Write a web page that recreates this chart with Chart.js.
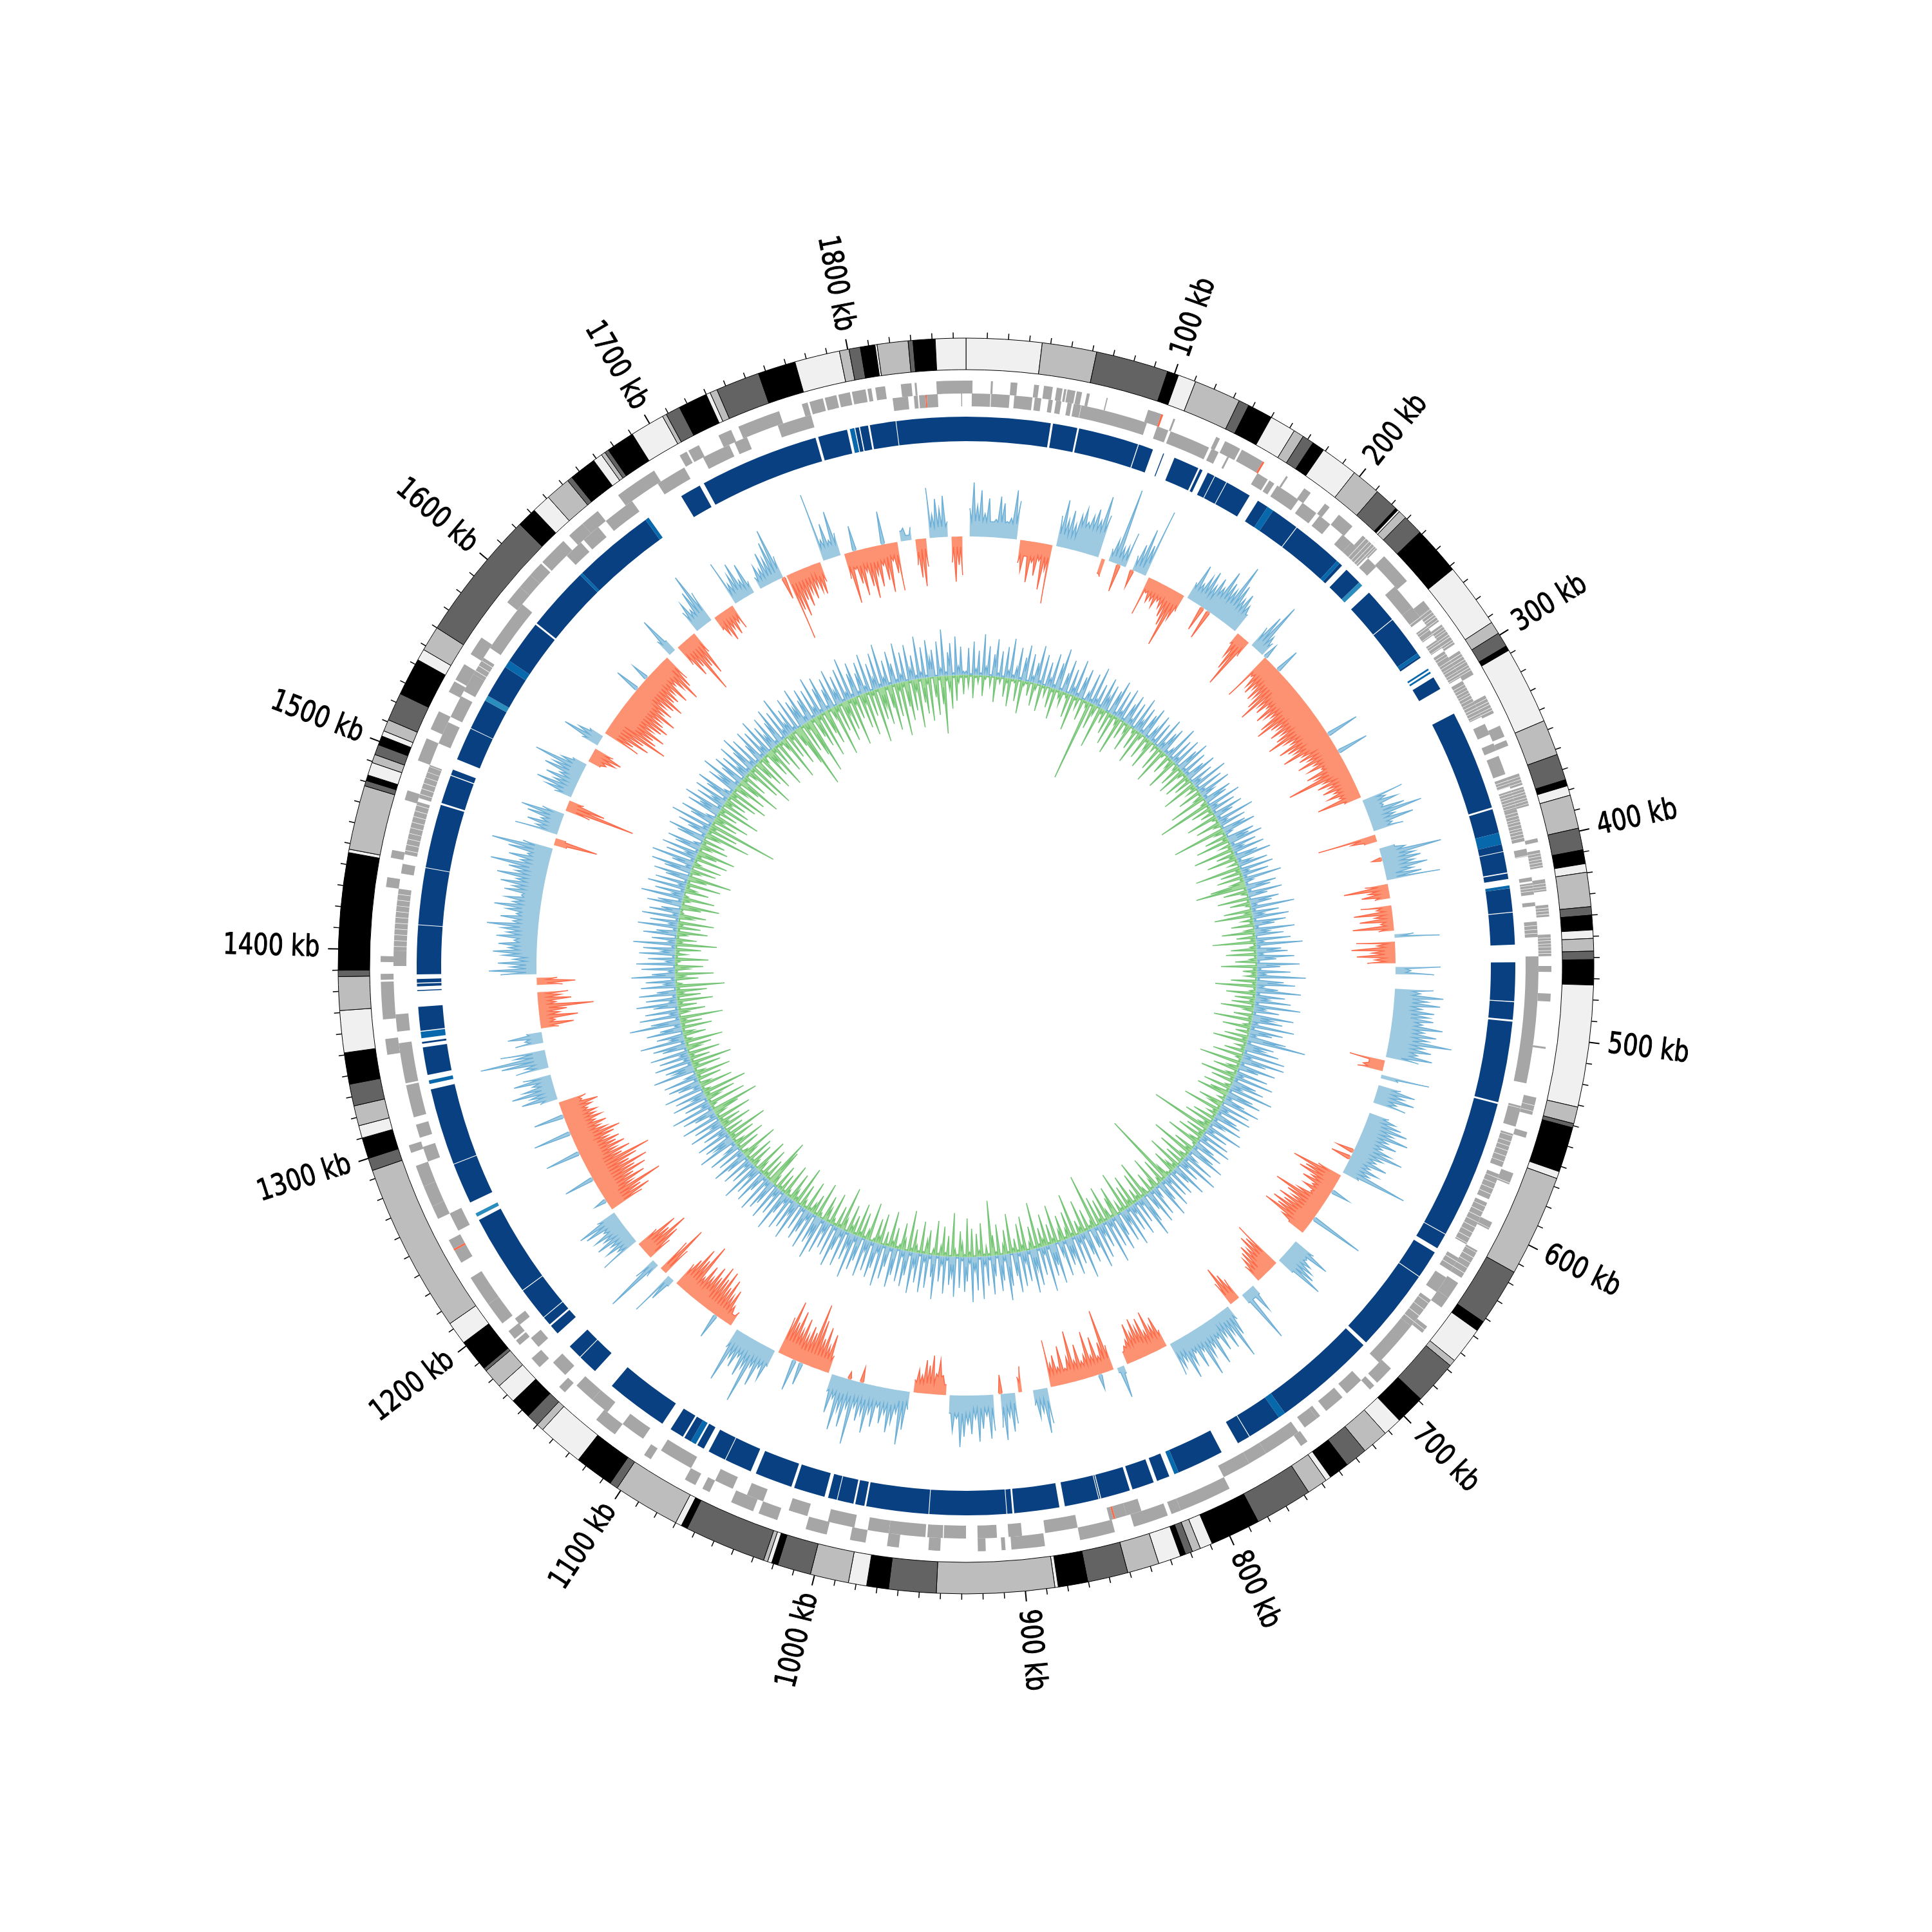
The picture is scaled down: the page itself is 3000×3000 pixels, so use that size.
<!DOCTYPE html>
<html><head><meta charset="utf-8"><title>Circular genome plot</title>
<style>html,body{margin:0;padding:0;background:#fff}#w{position:relative;width:3000px;height:3000px}canvas{position:absolute;left:0;top:0}</style>
<script src="https://cdn.jsdelivr.net/npm/chart.js@4"></script></head><body><div id="w">
<canvas id="rings" width="3000" height="3000"></canvas><canvas id="mid" width="3000" height="3000"></canvas><canvas id="inner" width="3000" height="3000"></canvas><canvas id="axis" width="3000" height="3000"></canvas></div>
<script>
const genomeKb=1856;
const tickLabels=['100 kb','200 kb','300 kb','400 kb','500 kb','600 kb','700 kb','800 kb','900 kb','1000 kb','1100 kb','1200 kb','1300 kb','1400 kb','1500 kb','1600 kb','1700 kb','1800 kb'];
const contigEnds=[36,62,96.6,102,110.6,133,138,150,162.5,167.5,173,179,197,211,222.7,224,225,229,238.7,262,293,299,306,308.4,345.5,362.5,375,378,382.6,398.6,409,415.6,419.7,436,440,447,451,457,461,473,531,539,541,562.6,566,614.5,642,647,664.7,667.8,688.8,703,712,724.6,735.3,745,747.6,757.5,785,809,815,819,822.5,825,835.8,851,870.3,884.4,886,942,964.6,975,983.7,1002,1018,1021,1023,1025,1064,1067,1070,1102,1106,1124.6,1146.6,1150,1156,1166,1175.6,1185,1186.6,1202,1213,1294,1300,1310,1316,1325.6,1336,1351,1371,1387,1390,1445.7,1447.3,1478,1480.6,1483.3,1489.5,1493.5,1498.4,1502.8,1505.4,1511,1524.5,1542.5,1548,1560,1622.5,1632,1641,1653,1655.5,1668.5,1673,1675,1677,1690.5,1707,1709,1716,1730,1732,1735.5,1756.5,1774.5,1796,1800.6,1806,1813,1814,1828.7,1831,1841.5,1856];
const contigShades=[0,1,2,3,0,1,2,3,0,1,2,3,0,1,2,3,0,1,2,3,0,1,2,3,0,1,2,3,0,1,2,3,0,1,2,3,0,1,2,3,0,1,2,3,0,1,2,3,0,1,2,3,0,1,2,3,0,1,2,3,0,1,2,3,0,1,2,3,0,1,2,3,0,1,2,3,0,1,2,3,0,1,2,3,0,1,2,3,0,1,2,3,0,1,2,3,0,1,2,3,0,1,2,3,0,1,2,3,0,1,2,3,0,1,2,3,0,1,2,3,0,1,2,3,0,1,2,3,0,1,2,3,0,1,2,3,0,1,2,3,0,1,2,3,0];
const forwardGenes=[[0,3.3],[12.6,13.6],[22.6,26],[34.5,37],[39.5,44],[46,49],[49.8,51],[51.5,55.6],[56.3,59],[61.5,63],[71.7,72.3],[93.5,100.5],[100.5,101.5,1],[107,108],[130.5,132.6],[135.5,144],[145,157],[157,158,1],[171,172],[182,186],[195,198],[204,213],[220,230],[235,252],[265,270],[270,278],[280,292],[296,310],[322,332],[339,345],[347,350],[365,371],[372,382],[399,401],[405,414],[420,426],[433,439],[448,459],[464,467],[478,482],[505,506],[531,540],[549,552],[571,577],[598,602],[614,630],[633,642],[642,648],[660,664],[688,698],[700,703],[744,748],[790,817],[817,822],[824,842],[852,870],[888,905],[908,910],[918,922],[941,947],[962,968],[979,987],[999,1010],[1025,1035],[1038,1050],[1062,1066],[1070,1076],[1096,1100],[1118,1130],[1151,1155],[1169,1175],[1184,1187],[1188,1193],[1198,1210],[1210,1226],[1235,1242],[1242,1243,1],[1243,1248],[1260,1267],[1267,1278],[1278,1289],[1296,1300],[1347,1355],[1365,1384],[1385,1388],[1394,1397],[1432,1437],[1447,1451],[1477,1482],[1498,1510],[1515,1525],[1536,1542],[1543,1552],[1558,1568],[1590,1600],[1600,1608],[1608,1616],[1617,1632],[1636,1645],[1645,1655],[1668,1690],[1705,1709],[1710,1716],[1727,1734],[1738,1760],[1772,1775],[1776,1783],[1784,1790],[1791,1797],[1798,1805],[1806,1808],[1810,1815],[1823,1828.4],[1830,1831],[1841,1856]];
const reverseGenes=[[3,12.6],[13,22.6],[25,34.4],[35.6,39],[42.8,45],[46.7,49.5],[52.7,55],[56,59.8],[60,95],[100.6,106.7],[108,129.5],[131,135],[140,141],[157.8,164],[165,168],[169.8,183],[185.6,194.5],[196.6,203.7],[212,218],[218,229],[230,236],[250,264],[264,272],[276,282],[285,290],[292,308],[310,331],[335,341],[346,350],[353,363],[365,370],[372,382],[382,399],[403,407],[418,420],[421,427],[431,433],[441,449],[459,525],[537,548],[552,570],[574,588],[590,614],[622,630],[634,643],[648,665],[665,690],[703,713],[716,727],[731,733],[733,741],[745,765],[765,775],[775,790],[836,844],[844,850],[850,851,1],[851,853],[870,887],[899,906],[912,922],[928,939.5],[940,948],[949,968],[968,979],[986,1000],[1011,1021],[1035,1044],[1052,1062],[1076,1094],[1105,1118],[1128,1138],[1138,1149],[1157,1166],[1177,1183],[1192,1196],[1250,1260],[1289,1297],[1302,1309],[1313,1330],[1331,1352],[1358,1367],[1392,1400],[1400,1432],[1440,1445],[1450,1478],[1480,1498],[1510,1522],[1525,1537],[1540,1550],[1550,1560],[1566,1594],[1628,1638],[1640,1650],[1655,1672],[1688,1704],[1715,1730],[1733,1740],[1757,1775],[1818,1826],[1829,1831],[1831.7,1835],[1835,1835.7,1],[1835.7,1841.4],[1853.5,1854]];
const geneBreaks=[222,224.2,226.1,227.8,229,270.4,272.1,273.8,275.2,276.9,278.5,281.2,282.8,284.1,286,287.4,289.3,290.6,293.5,295.1,297.6,299.2,301,302.4,304.3,305.8,307.2,312,313.6,315.3,317,318.4,320.2,322,323.7,325.5,327,328.8,330.2,366.5,368,369.6,373,374.6,376,377.7,379.2,380.8,383.5,385.2,387,388.4,390.1,392,393.5,395.2,397,406.5,408,409.7,411.2,412.8,422,423.5,425,434.5,436,437.6,443,445,447,449.6,451,452.7,454.2,456,457.5,530,535,538,553,556,558.5,561,564,567,576,579,582,585,592,595,598,601,604,607,610,613,615,618,621,624,627,650,654,658,662,1402,1405,1408,1411,1414,1417,1420,1423,1426,1429,1452,1455,1458,1461,1464,1467,1470,1473,1476,1482,1485,1488,1491,1494,1497,1552,1555,1558];
const repeatMarks=[[45.8,47,0],[60.3,61.3,0],[94.1,94.6,0],[102.6,108.5,0],[109,115,0],[129,130,0],[131.5,134.6,0],[138.6,139,0],[145.8,146.2,0],[160.3,165.5,0],[171.7,175.3,2],[190.6,191,0],[219,221,2],[222.7,226,0],[235.6,238,3],[238,243.3,0],[262.2,262.6,0],[285,287,2],[288,295,0],[295,296,2],[296,297,0],[297,298,2],[298,300.6,0],[307.8,323,0],[377.5,378.5,0],[391.6,398,2],[401.8,402.2,0],[413.4,414,0],[417,420.5,0],[420.5,422,2],[434.8,435.2,0],[452.5,462,0],[483,483.5,0],[493,494,0],[538,539,0],[614.5,614.9,0],[623.4,626,0],[641.3,641.7,0],[687,689,0],[745,749,2],[767.6,768,0],[775,785,0],[810.6,813,2],[813,816,0],[823,825,0],[837,838.5,0],[854.5,855,0],[855.6,856,0],[874.5,877.5,0],[902,903,0],[905.8,906.2,0],[947.8,948.2,0],[982,983,0],[988,989,0],[997.8,998.2,0],[1003,1005,0],[1022,1023.6,0],[1044,1047,0],[1061.8,1062.2,0],[1072,1075,0],[1079,1080,0],[1080,1083,2],[1087,1088,0],[1095.7,1101,0],[1135,1147,0],[1157.8,1158.2,0],[1166,1175.6,0],[1181,1182,0],[1186.8,1187.2,0],[1205.2,1205.6,0],[1250,1252,0],[1252,1254,3],[1254,1260.5,0],[1282.8,1283.2,0],[1325,1328,0],[1328,1330,2],[1330,1333,0],[1348,1350,0],[1351,1353,0],[1353,1356.5,2],[1356.5,1357,0],[1370,1378.5,0],[1379,1381,0],[1382.5,1383,0],[1385,1387.5,0],[1414,1414.4,0],[1445,1445.4,0],[1480,1481,0],[1496.5,1497,0],[1500,1506,0],[1524,1524.3,0],[1541,1544,3],[1562,1566,2],[1590,1591,0],[1626,1627.5,2],[1672,1674,2],[1674,1695,0],[1706.5,1709,0],[1774,1775.5,0],[1791.5,1793,0],[1793,1795.5,2],[1795.5,1796,0],[1798,1798.6,0],[1803,1804,0],[1818,1818.4,0]];
const _=null;
const gcValues=[
-30,22,42,24,36,18,30,12,14,32,
27,13,16,38,30,-18,-24,-12,-32,-16,
-26,-14,-36,-20,-46,24,37,22,30,20,
28,34,24,30,36,28,48,34,-12,-14,
10,18,60,14,16,28,-10,12,22,36,
24,54,-31,-12,-18,-16,-20,-14,-18,-24,
-30,-46,-22,-14,14,30,16,24,30,20,
28,22,38,30,26,49,34,24,30,22,
16,-10,-20,-30,-43,-14,18,30,43,16,
12,-40,-18,-26,-30,-24,-32,-28,-36,-45,
-30,-34,-26,-38,-32,-28,-40,-45,-34,-30,
-38,-30,-36,-45,-32,-28,-40,-34,-30,-41,
-26,-30,-24,-34,-22,-28,-18,-32,-26,-50,
-22,-28,-20,-26,-18,-24,-16,-35,-14,33,
18,26,14,30,43,20,34,16,24,-46,
-20,-10,_,12,20,48,26,30,24,34,
22,28,42,-18,-35,-16,-22,-12,35,-24,
-12,-30,-14,-26,-10,-32,-12,15,35,-30,
-14,-34,-18,-30,-16,-22,35,12,30,_,
-10,_,30,20,38,26,36,22,32,28,
32,24,40,26,36,30,49,28,34,24,
36,26,-28,-12,-16,-20,38,14,-20,18,
30,22,31,18,26,_,-15,16,22,28,
34,24,37,22,30,20,28,39,24,20,
30,18,26,20,52,14,-20,-40,-28,-32,
-20,-26,-16,-22,-14,-24,-42,-30,-24,-34,
-28,-36,-30,-40,-22,-14,_,_,18,33,
16,22,26,30,39,14,-40,-30,-33,-24,
-28,-24,-20,-15,_,8,22,8,44,8,
-18,-24,-32,-20,12,24,42,20,30,18,
28,16,36,20,26,40,18,30,16,24,
34,18,22,27,-14,-26,-20,-33,-18,-30,
-24,-32,-22,-30,-18,-14,-10,6,25,4,
-20,-49,-24,-14,-30,-16,-36,-18,-14,-28,
-16,-40,-20,-12,-30,-14,-24,-18,-37,28,
35,18,22,12,_,20,-20,-12,24,30,
18,36,26,-15,28,34,16,26,36,18,
30,22,32,40,18,28,14,-8,-15,-27,
-16,-30,-22,-26,-14,-18,-10,14,30,42,
18,26,34,20,28,16,32,22,38,24,
30,20,50,22,38,26,42,18,30,14,
-14,-30,-20,-34,-24,-38,-50,-26,-30,-22,
-34,-24,-38,-28,-44,-30,14,26,18,34,
20,51,24,32,18,28,22,43,16,_,
-12,-8,-14,-26,-20,-32,-24,-36,-28,-37,
-26,-33,-22,-30,-18,-45,-30,-38,-26,-20,
6,21,36,-24,-42,-28,12,46,18,-20,
-30,-40,-26,-34,-18,32,16,24,18,28,
20,26,16,30,34,16,-28,-36,-30,-49,
-26,-38,-30,-42,-34,-46,-32,-40,-52,-30,
-38,-28,-36,-30,-34,-26,-32,-38,-28,-24,
-30,-22,-28,-24,-26,-20,-24,-30,-18,-22,
14,28,20,34,24,16,30,22,_,26,
18,36,52,24,35,_,22,14,27,12,
-14,-26,-12,-30,-16,-22,-43,-14,-26,-18,
-24,_,-20,-30,-16,28,37,20,30,18,
26,34,22,30,18,32,24,28,40,20,
30,18,26,36,22,28,16,30,24,34,
22,38,24,30,45,22,32,18,34,48,
24,-10,-34,-8,34,18,26,16,28,34,
18,-20,-55,-30,-12,14,22,31,18,26,
16,30,24,41,20,12,-10,-14,-20,-24,
-16,14,31,20,12,-30,-24,-36,-30,-48,
-38,-34,-42,-30,-36,-40,-34,-30,-41,-28,
-34,-26,-32,-38,-28,-30,-24,-34,-20,-26,
-38,-28,-22,14,32,10,-18,-30,-24,-48,
-28,-36,-18,18,24,16,30,43,26,-12,
-18,-24,-16,-22,-14,-20,36,16,22,30,
14,26,10,-20,10,18,14,26,20,32,
41,18,-53,-30,-36,-24,-30,-20,-26,-18,
-22,-25,-16,54,16,28,14,36,18,-20,
-40,-14,-26,-36,-18,-30,-40,-22,-32,-16,
-28,-38,-14,-24,-38,8,10,4,10,-20,
-30,-37,-22,39,18,30,22,32,12,-20,
-35,-22,-30];
const gcFloor=[12,12,10,20,5,10,10,15,8,15,20,20,15,12,12,14,8,6,8,14,18,12,12,14,12,12,14,14,8,8,12,10,12,10,10,8,10,14,8,12,12,10,12,12,8,12,6,10,12,14,16,16,10,10,8,8,14,14,14,10,8,10,10,18,14,10,10,8,6,8,10,12,10,8,8];
const gcCross=[[108,-22],[117,-14],[172,-20],[178,-24],[390,-8],[596,-14],[601,-16],[905,-15],[1001,-12],[1010,-6],[228,12],[240,20],[296,26],[310,25],[628,15],[650,43],[835,12],[1045,18],[1050,25],[1112,20],[1222,10],[1240,24],[1260,28],[1275,30],[1288,24],[1600,20],[1610,14],[1728,-18],[1780,20],[1800,26]];
const depthHigh=[
3,21,1,26,5,19,2,32,7,23,
1,17,29,3,20,1,24,6,31,3,
9,25,2,18,28,1,22,5,16,30,
3,24,1,19,7,27,3,21,33,2,
15,26,1,20,6,29,3,17,24,1,
7,23,3,30,5,18,2,25,11,21,
1,19,28,3,22,6,26,2,16,24,
5,20,1,27,9,21,3,18,25,2,
11,23,3,19,1,26,6,17,22,3,
7,28,2,20,5,24,1,18,27,3,
21,3,16,25,1,19,7,29,2,22,
5,26,11,3,23,18,1,27,6,20,
2,24,15,3,30,7,21,1,19,26,
6,1,22,17,27,3,20,9,25,2,
18,28,3,11,23,1,26,6,21,3,
30,7,2,24,19,3,27,15,1,23,
17,5,34,3,21,9,28,2,25,16,
3,31,11,22,1,27,6,36,3,19,
24,5,29,15,2,33,18,3,26,7,
38,2,21,30,6,17,35,3,23,11,
28,3,36,9,20,2,32,16,24,5,
34,3,26,18,6,30,46,3,22,15,
27,2,33,7,34,20,3,29,16,1,
25,6,31,3,19,26,9,35,2,21,
28,5,17,30,1,24,7,27,3,18,
22,3,25,11,2,29,6,19,1,23,
5,27,1,16,24,3,20,30,2,9,
25,3,32,7,18,1,28,15,3,22,
1,20,6,26,3,17,30,2,9,24,
3,28,15,1,23,34,5,19,2,27,
7,21,3,31,11,25,1,18,29,3,
24,6,35,2,20,9,27,3,33,16,
1,26,19,5,36,7,23,2,30,15,
21,3,28,11,1,32,17,25,3,36,
6,22,2,29,16,34,3,24,9,27,
3,31,18,1,25,36,5,20,28,2,
16,30,3,23,7,33,2,26,11,35,
5,19,27,3,24,1,31,15,22,3,
29,7,20,2,34,17,3,26,6,30,
2,23,11,32,3,19,28,5,25,1,
21,31,3,16,26,2,33,7,20,28,
3,24,9,30,1,19,27,5,35,11,
22,2,29,6,18,32,3,25,1,21,
9,27,3,34,16,23,2,30,7,19,
26,3,20,1,31,11,24,3,28,6,
17,33,2,22,7,29,1,19,25,5,
30,3,15,27,1,23,9,32,3,20,
6,25,2,18,29,5,21,1,26,11,
3,31,16,23,3,27,7,19,2,28,
9,22,1,30,5,17,26,3,33,7,
20,2,28,11,24,1,31,6,18,25,
3,27,9,1,33,16,22,3,29,5,
24,7,30,2,19,26,3,35,11,21,
1,28,17,5,40,23,3,31,7,26,
2,19,32,6,24,3,29,15,1,27,
9,23,3,34,18,5,26,1,30,7,
21,2,28,11,25,3,33,6,19,1,
26,16,3,31,7,22,2,29,5,24,
15,1,27,19,3,33,9,23,3,30,
6,25,2,18,28,1,21,32,5,17,
34,3,24,9,29,2,20,27,6,1,
22,30,3,16,25,5,33,2,19,28,
7,1,26,17,31,3,23,11,27,3,
20,29,6,2,24,15,32,3,18,26,
1,22,9,28,3,19,31,5,25,2,
16,27,3,23,7,30,1,21,11,26,
3,19,29,2,24,6,33,9,20,3,
27,1,22,15,30,5,18,26,2,23,
7,31,3,20,28,3,16,24,1,29,
11,22,2,26,6,33,3,19,27,3,
17,25,5,30,1,21,9,28,3,34,
7,20,2,26,16,3,31,6,23,1,
28,9,19,3,33,5,24,2,29,15,
21,1,27,6,36,3,18,25,2,30,
7,22,3];
const depthLow=[
2,9,1,18,2,6,1,16,3,1,
8,1,20,2,5,1,15,4,22,2,
3,17,1,26,4,2,11,1,18,5,
1,21,2,8,1,16,3,24,2,6,
11,2,4,19,1,28,3,9,1,17,
2,5,64,2,20,8,1,33,4,11,
1,18,3,25,2,6,30,1,15,2,
8,22,1,4,17,2,27,5,1,19,
3,9,24,1,6,2,20,2,29,4,
1,16,2,8,26,1,5,18,2,23,
6,2,21,3,15,1,28,4,9,1,
19,2,8,30,1,5,43,2,17,3,
11,1,25,4,2,20,6,1,42,8,
2,18,4,27,1,9,3,32,2,15,
5,24,2,8,1,36,4,17,2,21,
3,11,28,40,2,19,5,1,25,2,
16,4,1,22,6,30,2,9,3,18,
1,8,26,2,15,4,34,2,5,20,
2,24,2,6,17,1,28,3,11,4,
9,1,20,3,32,2,5,23,2,16,
4,18,2,26,8,1,15,3,30,2,
6,22,2,11,1,19,4,27,2,8,
3,16,1,24,5,2,33,2,9,20,
2,8,28,3,18,1,5,22,2,15,
25,2,6,1,20,11,2,30,4,8,
2,18,1,23,5,9,48,2,16,4,
21,2,8,27,3,1,17,5,34,2,
6,24,2,15,1,28,4,9,19,2,
3,11,58,2,20,5,1,26,8,2,
16,1,6,30,2,22,4,11,2,25,
5,18,2,32,3,9,1,24,16,2,
8,28,2,19,4,23,1,43,6,3,
17,2,26,5,11,1,34,3,21,8,
2,20,9,1,30,4,16,2,25,6,
15,3,36,2,18,6,1,27,5,22,
2,11,4,31,2,19,8,1,24,3,
16,43,2,8,2,26,5,18,1,22,
4,30,2,11,20,2,6,34,1,16,
3,23,8,2,27,5,1,19,11,2,
25,2,6,18,3,32,1,9,21,4,
2,16,5,28,2,11,1,24,6,19,
3,1,30,8,2,20,4,26,2,15,
6,22,1,9,34,3,17,2,5,25,
2,11,20,1,4,28,2,16,8,3,
24,2,6,18,1,31,4,9,22,2,
5,26,2,15,3,20,1,8,30,38,
2,17,4,24,2,9,28,1,6,19,
3,22,2,11,30,5,1,18,2,25,
8,2,20,4,33,2,15,1,24,6,
17,3,28,2,9,21,38,2,5,30,
2,11,24,4,35,6,2,26,9,1,
19,3,28,8,2,22,5,32,2,16,
4,25,1,11,20,2,30,6,2,18,
9,2,24,3,17,5,34,1,8,21,
2,15,4,28,2,19,6,24,3,38,
5,1,18,8,30,2,11,22,2,4,
26,2,9,3,20,1,32,5,16,2,
8,24,2,18,4,28,1,11,21,3,
2,16,30,2,6,25,4,1,19,9,
3,27,2,15,34,2,8,20,1,23,
6,2,26,4,16,30,2,9,22,3,
18,1,11,36,3,24,5,55,2,20,
8,28,2,16,4,33,1,22,6,17,
2,24,5,31,2,11,26,2,18,35,
4,20,2,8,28,3,38,1,16,24,
2,30,6,2,22,11,34,4,18,2,
26,3,9,36,1,20,5,28,2,15,
32,52,2,24,6,30,45,3,17,26,
4,36,2,19,28,2,9,40,5,22,
2,32,11,24,3,38,6,18,1,27,
8,34,2,20,4,42,2,25,15,30,
3,18,36,2,26,6,42,4,20,31,
2,24,9,38,2,19,28,5,34,1,
16,30,3,22,45,4,11,26,2,20,
6,2,15];

const greys=['#f0f0f0','#bdbdbd','#636363','#000000'];
const clear='rgba(0,0,0,0)';
const blues=[clear,'#084081','#0868ac','#2b8cbe'];
function spans(ends){let p=0;return ends.map(e=>{const d=e-p;p=e;return d;});}
function geneRing(list){const data=[],color=[];let c=0;
  const put=(s,e,col)=>{if(s>c){data.push(s-c);color.push(clear);c=s;}if(e>c){data.push(e-c);color.push(col);c=e;}};
  for(const [s,e,red] of list){let a=s;const col=red?'#fb6a4a':'#a6a6a6';
    if(!red)for(const b of geneBreaks){if(b>a&&b<e-0.3){put(a,b,col);a=b+0.25;}}
    put(a,e,col);}
  if(c<genomeKb){data.push(genomeKb-c);color.push(clear);}
  return {data,backgroundColor:color,borderWidth:0};}
function repeatRing(marks){const data=[],color=[];let c=0;
  for(const [s,e,k] of marks){if(s>c){data.push(s-c);color.push(blues[1]);}
    data.push(e-s);color.push(blues[k]);c=e;}
  if(c<genomeKb){data.push(genomeKb-c);color.push(blues[1]);}
  return {data,backgroundColor:color,borderWidth:0,weight:38};}
const spacer=w=>({data:[1],backgroundColor:[clear],borderWidth:0,weight:w});
new Chart(document.getElementById('rings'),{type:'doughnut',data:{datasets:[
  {data:spans(contigEnds),backgroundColor:contigShades.map(i=>greys[i]),borderColor:'#000',borderWidth:1,weight:49},
  spacer(17),
  Object.assign(geneRing(forwardGenes),{weight:20}),
  Object.assign(geneRing(reverseGenes),{weight:20}),
  spacer(16),
  repeatRing(repeatMarks)
]},options:{responsive:false,animation:false,events:[],radius:975,cutout:(815/975*100)+'%',
  plugins:{legend:{display:false},tooltip:{enabled:false}}}});

function radial(min,max){return {r:{min,max,grid:{display:false},angleLines:{display:false},ticks:{display:false},pointLabels:{display:false},border:{display:false}}};}
const baseOpts=(min,max)=>({responsive:false,animation:false,events:[],layout:{padding:0},scales:radial(min,max),
  plugins:{legend:{display:false},tooltip:{enabled:false}},elements:{point:{radius:0},line:{tension:0}}});
const series=(data,line,fill,w)=>({data,borderColor:line,backgroundColor:fill,borderWidth:w||1.5,fill:{value:0},pointRadius:0,spanGaps:false});
const cfg=['#6baed6','#9ecae1','#fb6a4a','#fc9272','#74c476','#a1d99b'];
const gcComb=gcValues.flatMap((v,i)=>{const n=gcValues[i+1];
  if(v===null)return [null,null];
  if(n===null||n===undefined||Math.sign(n)!==Math.sign(v))return [v,null];
  return [v,Math.sign(v)*Math.min(Math.abs(v),Math.abs(n),gcFloor[Math.floor(i/10)])];});
const gcUp=gcComb.map(v=>v!==null&&v>0?v:null), gcDown=gcComb.map(v=>v!==null&&v<0?v:null);
const crossUp=gcComb.map(()=>null), crossDown=gcComb.map(()=>null);
for(const [kb,v] of gcCross){const i=Math.round(kb/1.25),t=v>0?crossUp:crossDown,s=v>0?1:-1;t[i-1]=s;t[i]=v;t[i+1]=s;}
new Chart(document.getElementById('mid'),{type:'radar',data:{labels:gcComb.map((_v,i)=>i*1.25),datasets:[
  series(gcUp,cfg[0],cfg[1]),series(gcDown,cfg[2],cfg[3]),
  series(crossUp,cfg[0],cfg[1]),series(crossDown,cfg[2],cfg[3])]},options:baseOpts(-333.5,416.5)});
const comb=a=>a.flatMap((v,i)=>[v,Math.min(v,a[(i+1)%a.length])*0.4]);
const highComb=comb(depthHigh), lowComb=comb(depthLow).map(v=>-v);
new Chart(document.getElementById('inner'),{type:'radar',data:{labels:highComb.map((_v,i)=>i*1.25),datasets:[
  series(highComb,cfg[0],cfg[1]),series(lowComb,cfg[4],cfg[5])]},options:baseOpts(-226,524)});

const tickPlugin={id:'radialTicks',afterDraw(chart){
  const s=chart.scales.r,ctx=chart.ctx;ctx.save();ctx.strokeStyle='#000';ctx.fillStyle='#000';
  for(let kb=10;kb<genomeKb;kb+=10){const major=kb%100===0;
    const a=s.getPointPosition(kb,975),b=s.getPointPosition(kb,major?991:984);
    ctx.lineWidth=major?2:1.5;ctx.beginPath();ctx.moveTo(a.x,a.y);ctx.lineTo(b.x,b.y);ctx.stroke();}
  ctx.font='condensed 46px "DejaVu Sans"';ctx.textBaseline='middle';ctx.lineWidth=1;
  tickLabels.forEach((t,i)=>{const kb=(i+1)*100,p=s.getPointPosition(kb,1004);
    ctx.save();ctx.translate(p.x,p.y);
    if(kb/genomeKb<0.5){ctx.rotate(p.angle);ctx.textAlign='left';}
    else{ctx.rotate(p.angle+Math.PI);ctx.textAlign='right';}
    ctx.scale(0.89,1);ctx.fillText(t,0,0);ctx.strokeText(t,0,0);ctx.restore();});
  ctx.restore();}};
const axisLabels=Array.from({length:genomeKb},(_v,i)=>String(i));
new Chart(document.getElementById('axis'),{type:'radar',data:{labels:axisLabels,datasets:[{data:[],borderWidth:0,pointRadius:0}]},options:baseOpts(0,1),plugins:[tickPlugin]});
</script></body></html>
